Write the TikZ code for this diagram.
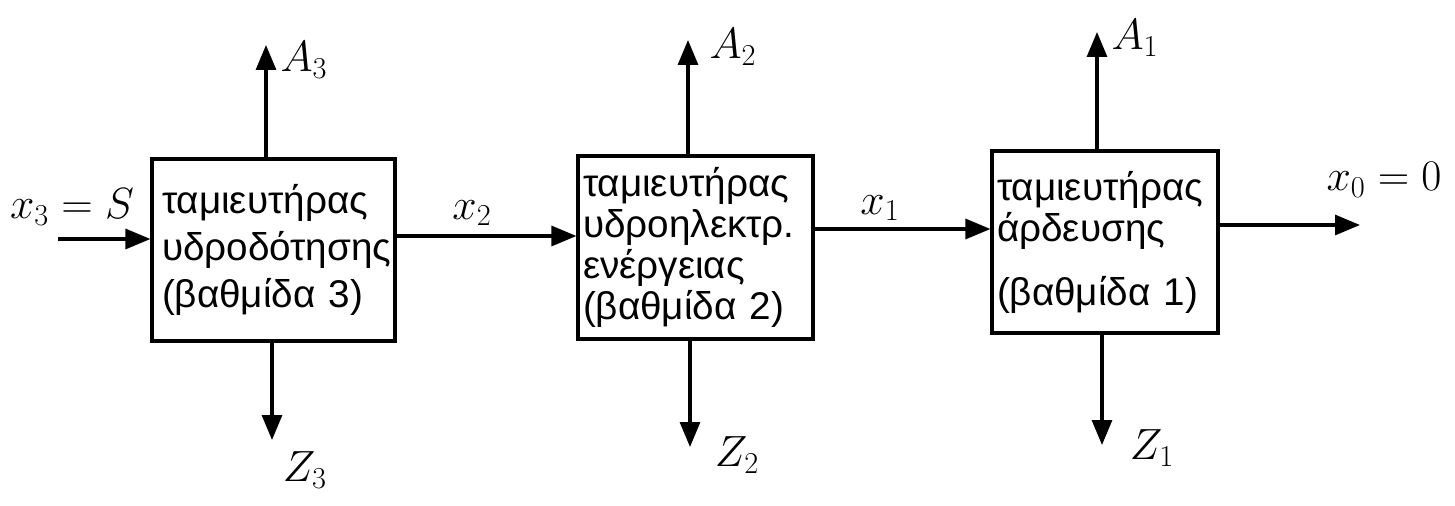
\documentclass[tikz,border=0pt]{standalone}
\usepackage{fontspec}
\setmainfont{Liberation Sans}
\usetikzlibrary{arrows.meta}
\begin{document}
\begin{tikzpicture}[x=0.02cm,y=-0.02cm,
  box/.style={draw,line width=1.8pt,align=left,inner xsep=0.1cm,inner ysep=0pt,font=\fontsize{22}{25}\selectfont},
  flow/.style={line width=1.8pt,-{Triangle[length=0.5cm,width=0.4cm]}},
  lab/.style={font=\fontsize{24}{28}\selectfont}]
\useasboundingbox (0,0) rectangle (1455,506);
% boxes
\node[box,minimum width=4.86cm,minimum height=3.64cm,inner xsep=0.2cm,text width=4.46cm,font=\fontsize{22}{27}\selectfont] (b1) at (273.5,250)
  {ταμιευτήρας\\υδροδότησης\\(βαθμίδα 3)};
\node[box,minimum width=4.7cm,minimum height=3.66cm,text width=4.5cm,font=\fontsize{22}{23.5}\selectfont] (b2) at (695.5,247.5)
  {ταμιευτήρας\\υδροηλεκτρ.\\ενέργειας\\(βαθμίδα 2)};
\node[box,minimum width=4.52cm,minimum height=3.64cm,text width=4.32cm,font=\fontsize{22}{23.5}\selectfont] (b3) at (1105,242)
  {ταμιευτήρας\\άρδευσης\\[0.45cm](βαθμίδα 1)};
% free ends
\coordinate (in3) at (58,239);
\coordinate (t3) at (266,45);
\coordinate (d3) at (272,440);
\coordinate (t2) at (688,40);
\coordinate (d2) at (690,447);
\coordinate (t1) at (1097,32);
\coordinate (d1) at (1102,445);
\coordinate (out) at (1360,225);
\coordinate (h12) at (0,236);
\coordinate (h23) at (0,229);
% connectors
\draw[flow] (in3) -- (in3 -| b1.west);
\draw[flow] (b1.east |- h12) -- (b2.west |- h12);
\draw[flow] (b2.east |- h23) -- (b3.west |- h23);
\draw[flow] (b3.east |- out) -- (out);
\draw[flow] (b1.north -| t3) -- (t3);
\draw[flow] (b1.south -| d3) -- (d3);
\draw[flow] (b2.north -| t2) -- (t2);
\draw[flow] (b2.south -| d2) -- (d2);
\draw[flow] (b3.north -| t1) -- (t1);
\draw[flow] (b3.south -| d1) -- (d1);
% labels
\node[lab] (lx3) at (72,207) {$x_3 = S$};
\node[lab] (la3) at (304,60) {$A_3$};
\node[lab] (lz3) at (305,470) {$Z_3$};
\node[lab] (lx2) at (472,213) {$x_2$};
\node[lab] (la2) at (733,47) {$A_2$};
\node[lab] (lz2) at (737,455) {$Z_2$};
\node[lab] (lx1) at (880,208) {$x_1$};
\node[lab] (la1) at (1135,38) {$A_1$};
\node[lab] (lz1) at (1152,448) {$Z_1$};
\node[lab] (lx0) at (1384,180) {$x_0 = 0$};
\end{tikzpicture}
\end{document}
